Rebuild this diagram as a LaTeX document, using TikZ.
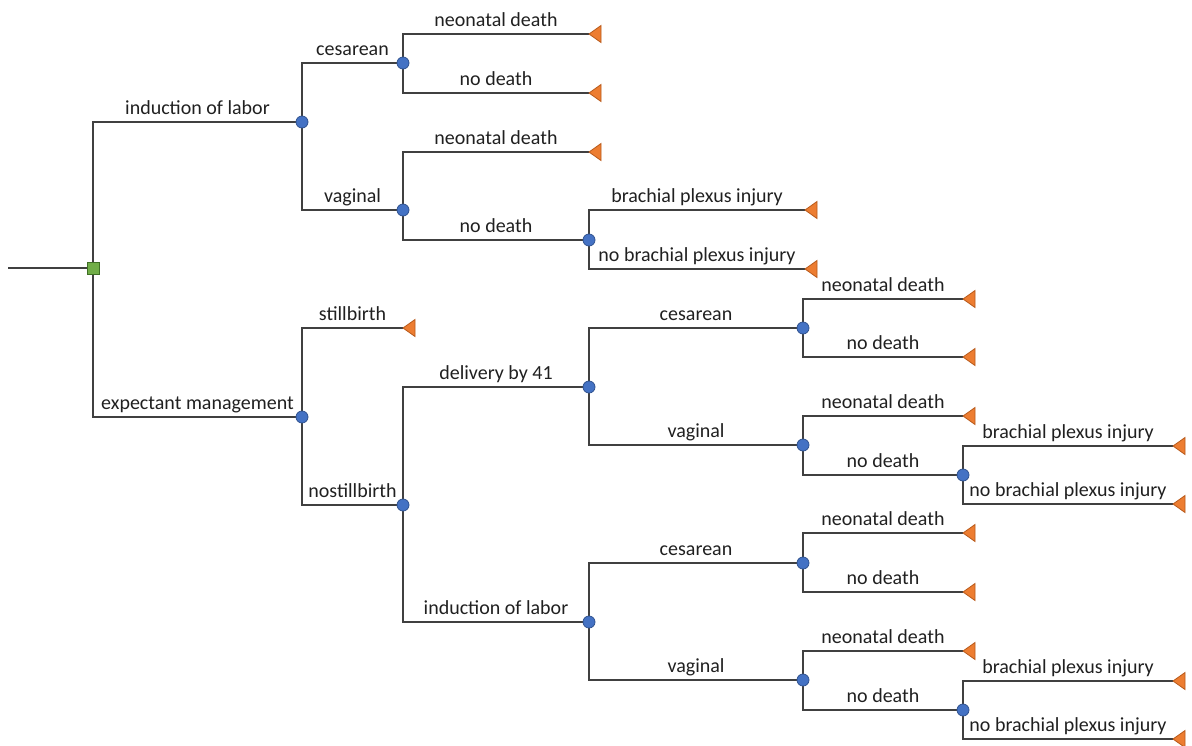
\documentclass[tikz,border=0pt]{standalone}
\usepackage{fontspec}
\setmainfont{Carlito}
\usetikzlibrary{backgrounds}
\definecolor{linegray}{HTML}{404040}
\definecolor{txt}{HTML}{202020}
\definecolor{chblue}{HTML}{4472C4}
\definecolor{chborder}{HTML}{2F528F}
\definecolor{decgreen}{HTML}{70AD47}
\definecolor{decborder}{HTML}{3F6F25}
\definecolor{termorange}{HTML}{ED7D31}
\definecolor{termborder}{HTML}{B85A1B}
\tikzset{
  edge/.style={draw=linegray, line width=1pt},
  chance/.style={circle, fill=chblue, draw=chborder, line width=0.4pt, inner sep=0pt, minimum size=6pt},
  decision/.style={rectangle, fill=decgreen, draw=decborder, line width=0.5pt, inner sep=0pt, minimum size=6pt},
  term/.style={fill=termorange, draw=termborder, line width=0.4pt, line join=miter},
  lbl/.style={font=\fontsize{10}{12}\selectfont, text=txt, anchor=base, inner sep=0pt, yshift=4pt}
}
\begin{document}
\begin{tikzpicture}[x=0.5pt,y=-0.5pt]
\useasboundingbox (0,0) rectangle (1192,745);
% decision and chance nodes
\coordinate (start) at (8,268);
\node[decision] (dec) at (93,268) {};
\node[chance] (c1) at (302,122) {};
\node[chance] (c2) at (403,63) {};
\node[chance] (c3) at (403,210) {};
\node[chance] (c4) at (589,240) {};
\node[chance] (c5) at (302,417) {};
\node[chance] (c6) at (403,505) {};
\node[chance] (c7) at (589,387) {};
\node[chance] (c8) at (803,328) {};
\node[chance] (c9) at (803,445) {};
\node[chance] (c10) at (963,475) {};
\node[chance] (c11) at (589,622) {};
\node[chance] (c12) at (803,563) {};
\node[chance] (c13) at (803,680) {};
\node[chance] (c14) at (963,710) {};
% terminal tips
\coordinate (t1) at (589,34);
\coordinate (t2) at (589,93);
\coordinate (t3) at (589,152);
\coordinate (t4) at (805,210);
\coordinate (t5) at (805,269);
\coordinate (t6) at (403,328);
\coordinate (t7) at (963,299);
\coordinate (t8) at (963,357);
\coordinate (t9) at (963,416);
\coordinate (t10) at (1173,446);
\coordinate (t11) at (1173,504);
\coordinate (t12) at (963,533);
\coordinate (t13) at (963,592);
\coordinate (t14) at (963,651);
\coordinate (t15) at (1173,681);
\coordinate (t16) at (1173,739);
\begin{scope}[on background layer]
\draw[edge] (start) -- (dec.center);
\draw[edge] (dec.center) |- (c1.center) node[lbl,pos=0.75]{induction of labor};
\draw[edge] (dec.center) |- (c5.center) node[lbl,pos=0.75]{expectant management};
\draw[edge] (c1.center) |- (c2.center) node[lbl,pos=0.75]{cesarean};
\draw[edge] (c1.center) |- (c3.center) node[lbl,pos=0.75]{vaginal};
\draw[edge] (c2.center) |- (t1) node[lbl,pos=0.75]{neonatal death};
\draw[edge] (c2.center) |- (t2) node[lbl,pos=0.75]{no death};
\draw[edge] (c3.center) |- (t3) node[lbl,pos=0.75]{neonatal death};
\draw[edge] (c3.center) |- (c4.center) node[lbl,pos=0.75]{no death};
\draw[edge] (c4.center) |- (t4) node[lbl,pos=0.75]{brachial plexus injury};
\draw[edge] (c4.center) |- (t5) node[lbl,pos=0.75]{no brachial plexus injury};
\draw[edge] (c5.center) |- (t6) node[lbl,pos=0.75]{stillbirth};
\draw[edge] (c5.center) |- (c6.center) node[lbl,pos=0.75]{nostillbirth};
\draw[edge] (c6.center) |- (c7.center) node[lbl,pos=0.75]{delivery by 41};
\draw[edge] (c6.center) |- (c11.center) node[lbl,pos=0.75]{induction of labor};
\draw[edge] (c7.center) |- (c8.center) node[lbl,pos=0.75]{cesarean};
\draw[edge] (c7.center) |- (c9.center) node[lbl,pos=0.75]{vaginal};
\draw[edge] (c8.center) |- (t7) node[lbl,pos=0.75]{neonatal death};
\draw[edge] (c8.center) |- (t8) node[lbl,pos=0.75]{no death};
\draw[edge] (c9.center) |- (t9) node[lbl,pos=0.75]{neonatal death};
\draw[edge] (c9.center) |- (c10.center) node[lbl,pos=0.75]{no death};
\draw[edge] (c10.center) |- (t10) node[lbl,pos=0.75]{brachial plexus injury};
\draw[edge] (c10.center) |- (t11) node[lbl,pos=0.75]{no brachial plexus injury};
\draw[edge] (c11.center) |- (c12.center) node[lbl,pos=0.75]{cesarean};
\draw[edge] (c11.center) |- (c13.center) node[lbl,pos=0.75]{vaginal};
\draw[edge] (c12.center) |- (t12) node[lbl,pos=0.75]{neonatal death};
\draw[edge] (c12.center) |- (t13) node[lbl,pos=0.75]{no death};
\draw[edge] (c13.center) |- (t14) node[lbl,pos=0.75]{neonatal death};
\draw[edge] (c13.center) |- (c14.center) node[lbl,pos=0.75]{no death};
\draw[edge] (c14.center) |- (t15) node[lbl,pos=0.75]{brachial plexus injury};
\draw[edge] (c14.center) |- (t16) node[lbl,pos=0.75]{no brachial plexus injury};
\end{scope}
% terminal triangles
\foreach \t in {t1,t2,t3,t4,t5,t6,t7,t8,t9,t10,t11,t12,t13,t14,t15,t16}
  \filldraw[term] (\t) -- ++(12,-8.5) -- ++(0,17) -- cycle;
\end{tikzpicture}
\end{document}
